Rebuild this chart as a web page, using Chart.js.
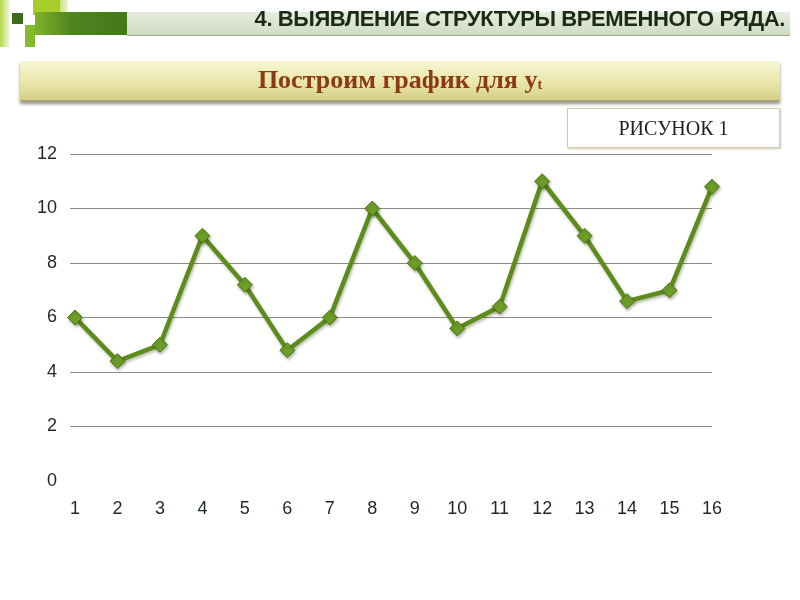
<!DOCTYPE html>
<html>
<head>
<meta charset="utf-8">
<script src="https://cdn.jsdelivr.net/npm/chart.js@4"></script>
<style>
  html,body{margin:0;padding:0;background:#fff;width:800px;height:600px;overflow:hidden;}
  #wrap{position:absolute;left:0;top:0;width:800px;height:600px;}
  canvas{position:absolute;left:0;top:0;}
  .abs{position:absolute;}
  #hdrText{right:15px;top:6px;font-family:"Liberation Sans",Arial,sans-serif;font-weight:bold;font-size:22px;color:#1c2a14;letter-spacing:-0.4px;white-space:nowrap;}
  #titleBox{left:20px;top:61px;width:760px;height:39px;background:linear-gradient(#f8f6d2,#e8e4a8 60%,#d6cf8a);box-shadow:0 3px 3px rgba(60,60,40,0.55);border-bottom:1px solid #b0a870;}
  #titleText{left:0;top:61px;width:800px;text-align:center;font-family:"Liberation Serif","Times New Roman",serif;font-weight:bold;font-size:26px;color:#8c3a12;line-height:38px;}
  #titleText sub{font-size:14px;vertical-align:-1px;}
  #figBox{left:567px;top:108px;width:211px;height:38px;border:1px solid #cfd0a8;box-shadow:1px 1px 2px rgba(120,120,80,0.4);text-align:center;font-family:"Liberation Serif","Times New Roman",serif;font-size:20px;line-height:39px;color:#222;background:#fff;}
</style>
</head>
<body>
<div id="wrap">
  <canvas id="c" width="800" height="600"></canvas>
  <!-- header decoration -->
  <div class="abs" style="left:0;top:0;width:10px;height:47px;background:linear-gradient(90deg,#b6d84a,rgba(200,230,120,0.2));"></div>
  <div class="abs" style="left:33px;top:0;width:27px;height:15px;background:#a6cf2e;"></div>
  <div class="abs" style="left:60px;top:0;width:8px;height:15px;background:linear-gradient(90deg,#c9e37a,#eef6d4);"></div>
  <div class="abs" style="left:12px;top:13px;width:11px;height:11px;background:#3f6b18;"></div>
  <div class="abs" style="left:35px;top:12px;width:92px;height:23px;background:linear-gradient(90deg,#7fb22a,#4f8420 40%,#427818);"></div>
  <div class="abs" style="left:25px;top:25px;width:10px;height:22px;background:#86b830;"></div>
  <div class="abs" style="left:127px;top:12px;width:663px;height:23px;background:linear-gradient(#e6ece0,#cfdcc2);border-bottom:1px solid #98aa86;"></div>
  <div id="hdrText" class="abs">4. ВЫЯВЛЕНИЕ СТРУКТУРЫ ВРЕМЕННОГО РЯДА.</div>
  <div id="titleBox" class="abs"></div>
  <div id="titleText" class="abs">Построим график для y<sub>t</sub></div>
  <div id="figBox" class="abs">РИСУНОК 1</div>
</div>
<script>
const categories = [1,2,3,4,5,6,7,8,9,10,11,12,13,14,15,16];
const yValues = [6.0,4.4,5.0,9.0,7.2,4.8,6.0,10.0,8.0,5.6,6.4,11.0,9.0,6.6,7.0,10.8];
const yTicks = [0,2,4,6,8,10,12];

const points = categories.map((c,i)=>({x:c,y:yValues[i]}));

const shadowPlugin = {
  id:'shadow',
  beforeDatasetDraw(chart){
    const ctx = chart.ctx;
    ctx.save();
    ctx.shadowColor='rgba(40,60,10,0.35)';
    ctx.shadowBlur=3;
    ctx.shadowOffsetX=1;
    ctx.shadowOffsetY=2;
  },
  afterDatasetDraw(chart){ chart.ctx.restore(); }
};

new Chart(document.getElementById('c'),{
  type:'line',
  data:{datasets:[{
    data:points,
    clip:false,
    borderColor:'#5e8c1c',
    borderWidth:4.5,
    pointStyle:'rectRot',
    pointRadius:7.5,
    pointHoverRadius:7.5,
    pointBackgroundColor:'#6e9e28',
    pointBorderColor:'#4b7414',
    pointBorderWidth:1,
    tension:0,
    fill:false
  }]},
  options:{
    responsive:false,
    animation:false,
    events:[],
    layout:{padding:{left:0,right:88,top:154,bottom:0}},
    plugins:{legend:{display:false},tooltip:{enabled:false}},
    scales:{
      x:{
        type:'linear',
        min:0.882,max:16,
        afterFit(s){ s.height=119; },
        afterBuildTicks(s){ s.ticks = categories.map(v=>({value:v})); },
        ticks:{
          padding:9,
          color:'#1e2a1e',
          font:{family:'"Liberation Sans", Arial, sans-serif',size:18},
          callback:(v)=>String(v),
          maxRotation:0,autoSkip:false
        },
        grid:{display:false},
        border:{display:false}
      },
      y:{
        min:0,max:12,
        afterFit(s){ s.width=70; },
        afterBuildTicks(s){ s.ticks = yTicks.map(v=>({value:v})); },
        ticks:{
          padding:13,
          color:'#1e2a1e',
          font:{family:'"Liberation Sans", Arial, sans-serif',size:18}
        },
        grid:{
          drawTicks:false,
          color:(c)=> c.tick && c.tick.value===0 ? 'rgba(0,0,0,0)' : '#8c8c8c',
          lineWidth:1
        },
        border:{display:false}
      }
    }
  },
  plugins:[shadowPlugin]
});
</script>
</body>
</html>
